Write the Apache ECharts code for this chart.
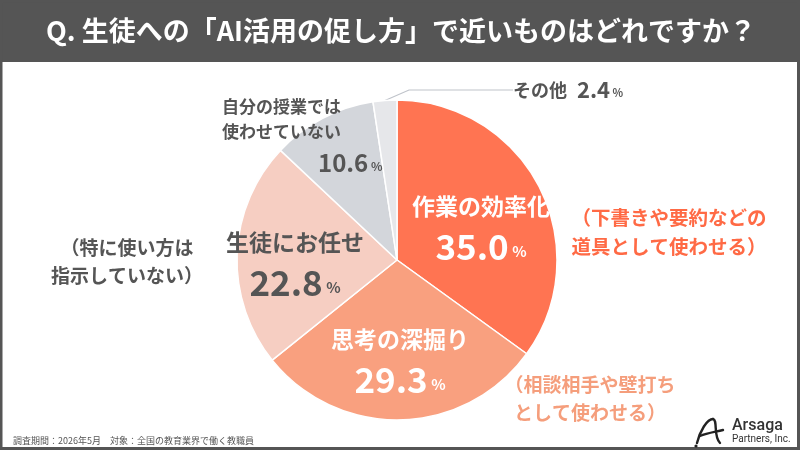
<!DOCTYPE html>
<html>
<head>
<meta charset="utf-8">
<script src="https://cdn.jsdelivr.net/npm/echarts@6/dist/echarts.min.js"></script>
<style>
html, body { margin: 0; padding: 0; background: #fff; }
#chart { width: 800px; height: 450px; }
</style>
</head>
<body>
<div id="chart"></div>
<script>
// データ
const names = ['作業の効率化', '思考の深掘り', '生徒にお任せ', '自分の授業では\n使わせていない', 'その他']
const values = [35.0, 29.3, 22.8, 10.6, 2.4]
const colors = ['#FF7452', '#F9A07F', '#F6CEC2', '#D3D6DB', '#E6E7EA']
const notes = ['（下書きや要約などの\n道具として使わせる）', '（相談相手や壁打ち\nとして使わせる）', '（特に使い方は\n指示していない）']
const title = 'Q. 生徒への「AI活用の促し方」で近いものはどれですか？'
const footer = '調査期間：2026年5月　対象：全国の教育業界で働く教職員'

const FONT = '"Noto Sans CJK JP", "Noto Sans", sans-serif'
const chart = echarts.init(document.getElementById('chart'))

// ラベルの置き場所（ラベルのみ）
const labelPos = [
  { x: 481, y: 228, align: 'center', verticalAlign: 'middle' },
  { x: 400, y: 361, align: 'center', verticalAlign: 'middle' },
  { x: 295, y: 264, align: 'center', verticalAlign: 'middle' },
  { x: 222, y: 94, align: 'left', verticalAlign: 'top' },
  { x: 505, y: 90, align: 'left', verticalAlign: 'middle' }
]

function bigLabel (color) {
  return {
    show: true,
    position: 'inside',
    fontFamily: FONT,
    formatter: p => '{nm|' + p.name + '}\n{val|' + p.value.toFixed(1) + '}{pct| %}',
    rich: {
      nm: { color: color, fontSize: 23, fontWeight: 'bold', fontFamily: FONT, lineHeight: 38 },
      val: { color: color, fontSize: 35, fontWeight: 'bold', fontFamily: FONT, lineHeight: 44 },
      pct: { color: color, fontSize: 15, fontWeight: 'bold', fontFamily: FONT, lineHeight: 44, padding: [8, 0, 0, 0] }
    }
  }
}

const labels = [
  bigLabel('#fff'),
  bigLabel('#fff'),
  bigLabel('#555'),
  {
    show: true,
    position: 'inside',
    formatter: p => p.name.split('\n').map(s => '{nm|' + s + '}').join('\n') + '\n{val|' + p.value.toFixed(1) + '}{pct| %}',
    rich: {
      nm: { color: '#555', fontSize: 17, fontWeight: 'bold', fontFamily: FONT, lineHeight: 25 },
      val: { color: '#555', fontSize: 24, fontWeight: 'bold', fontFamily: FONT, lineHeight: 38, padding: [0, 0, 0, 96] },
      pct: { color: '#555', fontSize: 12, fontWeight: 'bold', fontFamily: FONT, lineHeight: 38, padding: [6, 0, 0, 0] }
    }
  },
  {
    show: true,
    position: 'outside',
    padding: [0, 0, 0, 8],
    formatter: p => '{nm|' + p.name + '}{val|  ' + p.value.toFixed(1) + '}{pct| %}',
    rich: {
      nm: { color: '#555', fontSize: 18, fontWeight: 'bold', fontFamily: FONT, lineHeight: 28 },
      val: { color: '#555', fontSize: 22, fontWeight: 'bold', fontFamily: FONT, lineHeight: 28 },
      pct: { color: '#555', fontSize: 11, fontWeight: 'bold', fontFamily: FONT, lineHeight: 28, padding: [5, 0, 0, 0] }
    }
  }
]

const logoStroke = { fill: 'none', stroke: '#222', lineWidth: 2.4, lineCap: 'round' }

const option = {
  backgroundColor: '#fff',
  animation: false,
  graphic: [
    // 外枠とタイトル帯
    { type: 'rect', shape: { x: 0, y: 0, width: 800, height: 62 }, style: { fill: '#555' } },
    { type: 'rect', shape: { x: 1, y: 1, width: 797.5, height: 447.5 }, style: { fill: 'none', stroke: '#555', lineWidth: 3 } },
    {
      type: 'text', x: 401, y: 31,
      style: { text: title, fill: '#fff', font: 'bold 27px ' + FONT, textAlign: 'center', textVerticalAlign: 'middle' }
    },
    // 補足
    {
      type: 'text', x: 669, y: 232,
      style: { text: notes[0], fill: '#FF6A45', font: 'bold 19.5px ' + FONT, lineHeight: 29, textAlign: 'center', textVerticalAlign: 'middle' }
    },
    {
      type: 'text', x: 590, y: 399,
      style: { text: notes[1], fill: '#F59E7C', font: 'bold 19px ' + FONT, lineHeight: 28, textAlign: 'center', textVerticalAlign: 'middle' }
    },
    {
      type: 'text', x: 127, y: 262,
      style: { text: notes[2], fill: '#555', font: 'bold 19px ' + FONT, lineHeight: 28, textAlign: 'center', textVerticalAlign: 'middle' }
    },
    {
      type: 'text', x: 13, y: 441,
      style: { text: footer, fill: '#555', font: '9px ' + FONT, textAlign: 'left', textVerticalAlign: 'middle' }
    },
    // ロゴ
    { type: 'bezierCurve', shape: { x1: 697, y1: 443, cpx1: 700, cpy1: 431, cpx2: 707, cpy2: 419, x2: 713, y2: 419 }, style: logoStroke },
    { type: 'bezierCurve', shape: { x1: 713, y1: 419, cpx1: 718, cpy1: 420, cpx2: 713, cpy2: 436, x2: 720, y2: 443 }, style: logoStroke },
    { type: 'bezierCurve', shape: { x1: 700, y1: 436, cpx1: 707, cpy1: 433, cpx2: 715, cpy2: 432, x2: 723, y2: 430 }, style: logoStroke },
    { type: 'circle', shape: { cx: 696, cy: 446, r: 1.6 }, style: { fill: '#222' } },
    {
      type: 'text', x: 732, y: 426,
      style: { text: 'Arsaga', fill: '#333', font: '500 16px Roboto, sans-serif', textAlign: 'left', textVerticalAlign: 'middle' }
    },
    {
      type: 'text', x: 732, y: 439,
      style: { text: 'Partners, Inc.', fill: '#333', font: '10px Roboto, sans-serif', textAlign: 'left', textVerticalAlign: 'middle' }
    }
  ],
  series: [
    {
      type: 'pie',
      center: [397, 260],
      radius: 160,
      startAngle: 90,
      clockwise: true,
      silent: true,
      avoidLabelOverlap: false,
      itemStyle: { borderColor: '#fff', borderWidth: 1.5 },
      labelLine: { show: false },
      labelLayout: p => labelPos[p.dataIndex],
      data: values.map((v, i) => ({
        value: v,
        name: names[i],
        itemStyle: { color: colors[i] },
        label: labels[i],
        labelLine: i === 4
          ? { show: true, length: 12, length2: 104, lineStyle: { color: '#BFC3CA', width: 1.2 } }
          : { show: false }
      }))
    }
  ]
}

chart.setOption(option)
</script>
</body>
</html>
